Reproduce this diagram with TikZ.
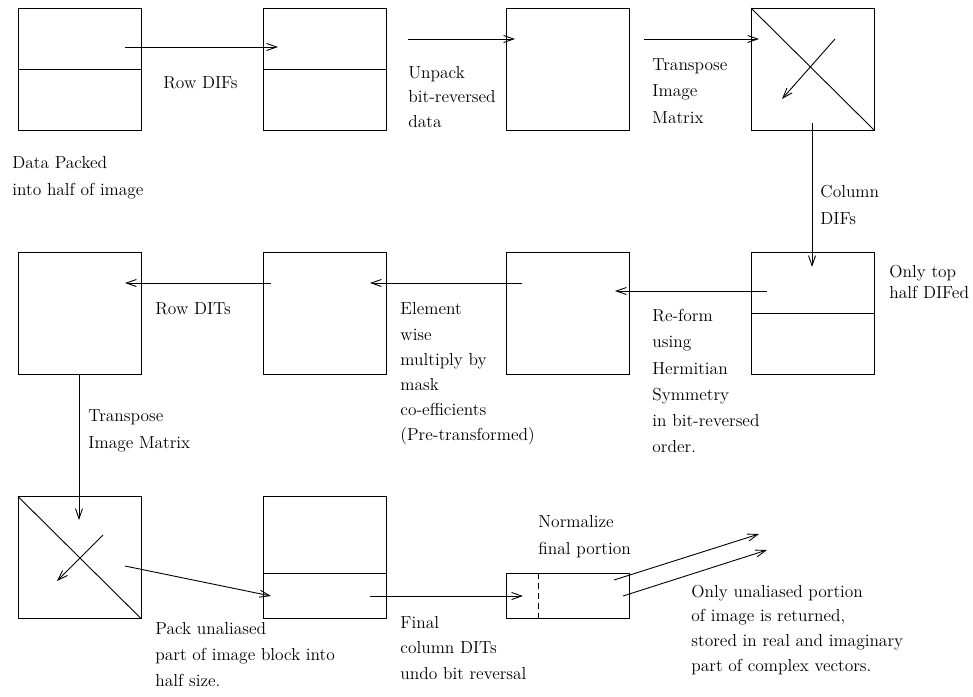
\documentclass[tikz,border=0pt]{standalone}
\usetikzlibrary{arrows.meta}
\newcommand\figtxt[1]{\scalebox{1.45}{\fontsize{12}{14}\selectfont #1}}
\begin{document}
\begin{tikzpicture}[x=1pt,y=-1pt,line width=0.9pt,
  box/.style={draw,minimum width=123pt,minimum height=122pt,inner sep=0pt,outer sep=0pt},
  flowarrow/.style={-{Straight Barb[length=10pt,width=7pt]}},
  lbl/.style={anchor=base west,inner sep=0pt}]
\useasboundingbox (0,0) rectangle (973,696);
% boxes
\node[box] (b1) at (79.5,69) {};
\node[box] (b2) at (324.5,69) {};
\node[box] (b3) at (568,69) {};
\node[box] (b4) at (812.5,69) {};
\node[box] (b5) at (79.5,313) {};
\node[box] (b6) at (324.5,313) {};
\node[box] (b7) at (568,313) {};
\node[box] (b8) at (812.5,313) {};
\node[box] (b9) at (79.5,557.5) {};
\node[box] (b10) at (324.5,557.5) {};
\node[box,minimum height=45pt] (b11) at (568,595.5) {};
% inner lines
\draw (b1.west) -- (b1.east);
\draw (b2.west) -- (b2.east);
\draw (b4.north west) -- (b4.south east);
\draw (b8.west) -- (b8.east);
\draw (b9.north west) -- (b9.south east);
\draw (b10.west |- 0,573) -- (b10.east |- 0,573);
\draw[dashed,dash pattern=on 6pt off 4pt] (538,573) -- (538,618);
% arrow end points
\coordinate (p1) at (125,47);  \coordinate (q1) at (278,47);
\coordinate (p2) at (408,39);  \coordinate (q2) at (515,39);
\coordinate (p3) at (644,39);  \coordinate (q3) at (759,39);
\coordinate (p4) at (835,39);  \coordinate (q4) at (782,99);
\coordinate (p5) at (812,123); \coordinate (q5) at (812,267);
\coordinate (p6) at (767,291); \coordinate (q6) at (615,291);
\coordinate (p7) at (522,283); \coordinate (q7) at (370,283);
\coordinate (p8) at (271,283); \coordinate (q8) at (125,283);
\coordinate (p9) at (79,374);  \coordinate (q9) at (79,520);
\coordinate (p10) at (103,535); \coordinate (q10) at (57,581);
\coordinate (p11) at (125,566); \coordinate (q11) at (271,596);
\coordinate (p12) at (370,596); \coordinate (q12) at (523,596);
\coordinate (p13) at (614,580); \coordinate (q13) at (759,534);
\coordinate (p14) at (623,596); \coordinate (q14) at (767,550);
\foreach \i in {1,...,14} \draw[flowarrow] (p\i) -- (q\i);
% labels
\node[lbl] (t1a) at (12,168) {\figtxt{Data Packed}};
\node[lbl] (t1b) at (12,195) {\figtxt{into half of image}};
\node[lbl] (t2) at (163,88) {\figtxt{Row DIFs}};
\node[lbl] (t3a) at (408,78) {\figtxt{Unpack}};
\node[lbl] (t3b) at (408,102) {\figtxt{bit-reversed}};
\node[lbl] (t3c) at (408,127) {\figtxt{data}};
\node[lbl] (t4a) at (652,70) {\figtxt{Transpose}};
\node[lbl] (t4b) at (652,96) {\figtxt{Image}};
\node[lbl] (t4c) at (652,123) {\figtxt{Matrix}};
\node[lbl] (t5a) at (820,197) {\figtxt{Column}};
\node[lbl] (t5b) at (820,224) {\figtxt{DIFs}};
\node[lbl] (t6a) at (889,277) {\figtxt{Only top}};
\node[lbl] (t6b) at (889,298) {\figtxt{half DIFed}};
\node[lbl] (t7a) at (652,321) {\figtxt{Re-form}};
\node[lbl] (t7b) at (652,347) {\figtxt{using}};
\node[lbl] (t7c) at (652,374) {\figtxt{Hermitian}};
\node[lbl] (t7d) at (652,400) {\figtxt{Symmetry}};
\node[lbl] (t7e) at (652,426) {\figtxt{in bit-reversed}};
\node[lbl] (t7f) at (652,452) {\figtxt{order.}};
\node[lbl] (t8a) at (400,314) {\figtxt{Element}};
\node[lbl] (t8b) at (400,340) {\figtxt{wise}};
\node[lbl] (t8c) at (400,365) {\figtxt{multiply by}};
\node[lbl] (t8d) at (400,390) {\figtxt{mask}};
\node[lbl] (t8e) at (400,415) {\figtxt{co-efficients}};
\node[lbl] (t8f) at (400,440) {\figtxt{(Pre-transformed)}};
\node[lbl] (t9) at (155,314) {\figtxt{Row DITs}};
\node[lbl] (t10a) at (88,421) {\figtxt{Transpose}};
\node[lbl] (t10b) at (88,448) {\figtxt{Image Matrix}};
\node[lbl] (t11a) at (155,634) {\figtxt{Pack unaliased}};
\node[lbl] (t11b) at (155,660) {\figtxt{part of image block into}};
\node[lbl] (t11c) at (155,686) {\figtxt{half size.}};
\node[lbl] (t12a) at (400,628) {\figtxt{Final}};
\node[lbl] (t12b) at (400,653) {\figtxt{column DITs}};
\node[lbl] (t12c) at (400,679) {\figtxt{undo bit reversal}};
\node[lbl] (t13a) at (538,527) {\figtxt{Normalize}};
\node[lbl] (t13b) at (538,554) {\figtxt{final portion}};
\node[lbl] (t14a) at (691,597) {\figtxt{Only unaliased portion}};
\node[lbl] (t14b) at (691,621) {\figtxt{of image is returned,}};
\node[lbl] (t14c) at (691,646) {\figtxt{stored in real and imaginary}};
\node[lbl] (t14d) at (691,671) {\figtxt{part of complex vectors.}};
\end{tikzpicture}
\end{document}
